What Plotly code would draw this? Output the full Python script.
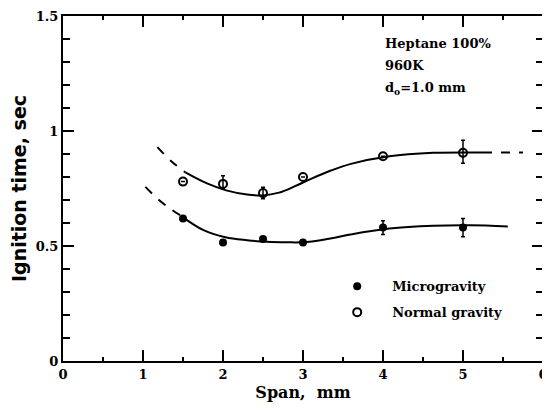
import plotly.graph_objects as go

# measured points
span = [1.5, 2, 2.5, 3, 4, 5]
micro = [0.62, 0.515, 0.53, 0.515, 0.58, 0.58]
micro_err_up = [0, 0, 0, 0, 0.03, 0.04]
micro_err_dn = [0, 0, 0, 0, 0.03, 0.04]
normal = [0.78, 0.77, 0.73, 0.80, 0.89, 0.905]
normal_err_up = [0, 0.035, 0.025, 0, 0, 0.055]
normal_err_dn = [0, 0.02, 0.025, 0, 0, 0.045]

# fitted curves
normal_fit_x = [1.53, 1.8, 2.04, 2.3, 2.5, 2.7, 2.9, 3.1, 3.35, 3.6, 4.08, 4.63, 5.09, 5.25]
normal_fit_y = [0.82, 0.772, 0.742, 0.724, 0.72, 0.732, 0.76, 0.792, 0.828, 0.857, 0.89, 0.905, 0.907, 0.907]
normal_dash_l_x = [1.18, 1.35, 1.53]
normal_dash_l_y = [0.93, 0.87, 0.82]
normal_dash_r_x = [5.25, 5.5, 5.75]
normal_dash_r_y = [0.907, 0.907, 0.907]

micro_fit_x = [1.48, 1.75, 2.03, 2.3, 2.55, 2.8, 3.04, 3.3, 3.59, 4.08, 4.63, 5.09, 5.56]
micro_fit_y = [0.63, 0.57, 0.538, 0.525, 0.518, 0.516, 0.517, 0.53, 0.55, 0.576, 0.588, 0.59, 0.585]
micro_dash_x = [1.03, 1.2, 1.35, 1.48]
micro_dash_y = [0.757, 0.70, 0.66, 0.63]

x_ticks = [0, 1, 2, 3, 4, 5, 6]
y_ticks = [0, 0.5, 1, 1.5]
y_ticktext = ["0", "0.5", "1", "1.5"]
info_lines = ["Heptane 100%", "960K", "d<sub>o</sub>=1.0 mm"]

SERIF = "DejaVu Serif"
SANS = "DejaVu Sans"
line = dict(color="black", width=2)
dash = dict(color="black", width=2, dash="dash")

fig = go.Figure()
fig.add_trace(go.Scatter(x=normal_fit_x, y=normal_fit_y, mode="lines", line=line,
                         line_shape="spline", showlegend=False, hoverinfo="skip"))
fig.add_trace(go.Scatter(x=normal_dash_l_x, y=normal_dash_l_y, mode="lines", line=dash,
                         line_shape="spline", showlegend=False, hoverinfo="skip"))
fig.add_trace(go.Scatter(x=normal_dash_r_x, y=normal_dash_r_y, mode="lines", line=dash,
                         showlegend=False, hoverinfo="skip"))
fig.add_trace(go.Scatter(x=micro_fit_x, y=micro_fit_y, mode="lines", line=line,
                         line_shape="spline", showlegend=False, hoverinfo="skip"))
fig.add_trace(go.Scatter(x=micro_dash_x, y=micro_dash_y, mode="lines", line=dash,
                         line_shape="spline", showlegend=False, hoverinfo="skip"))

fig.add_trace(go.Scatter(
    x=span, y=micro, mode="markers", name="Microgravity", legendgroup="a",
    marker=dict(symbol="circle", size=8, color="black"),
    error_y=dict(type="data", array=micro_err_up, arrayminus=micro_err_dn,
                 color="black", thickness=1.5, width=2)))
fig.add_trace(go.Scatter(
    x=span, y=normal, mode="markers", name="Normal gravity", legendgroup="b",
    marker=dict(symbol="circle-open", size=8, color="black", line=dict(width=2)),
    error_y=dict(type="data", array=normal_err_up, arrayminus=normal_err_dn,
                 color="black", thickness=1.5, width=2)))

for i, t in enumerate(info_lines):
    fig.add_annotation(x=4.0, y=1.38 - i * 0.097, text=t, showarrow=False,
                       xanchor="left", yanchor="middle",
                       font=dict(family=SERIF, size=13, color="black", weight="bold"))

axis_common = dict(
    showline=True, linecolor="black", linewidth=2, mirror="ticks",
    ticks="inside", ticklen=11, tickwidth=2, tickcolor="black",
    showgrid=False, zeroline=False, automargin=False,
    tickfont=dict(family=SERIF, size=13, color="black", weight="bold"),
)

fig.update_xaxes(range=[0, 6], tickvals=x_ticks,
                 minor=dict(dtick=0.5, ticks="inside", ticklen=4, tickwidth=1.5, tickcolor="black"),
                 title=dict(text="Span,  mm", standoff=6,
                            font=dict(family=SERIF, size=16, color="black", weight="bold")),
                 **axis_common)
fig.update_yaxes(range=[0, 1.5], tickvals=y_ticks, ticktext=y_ticktext,
                 minor=dict(dtick=0.1, ticks="inside", ticklen=7, tickwidth=1.5, tickcolor="black"),
                 title=dict(text="Ignition time, sec", standoff=7,
                            font=dict(family=SANS, size=19, color="black", weight="bold")),
                 **axis_common)

# page body has an 8px margin, so the figure is sized/placed to compensate
fig.update_layout(
    width=542, height=403,
    margin=dict(l=55, r=7, t=8, b=50),
    paper_bgcolor="white", plot_bgcolor="white",
    showlegend=True,
    legend=dict(x=0.54, y=0.26, xanchor="left", yanchor="top", itemwidth=60,
                bgcolor="rgba(0,0,0,0)", tracegroupgap=6,
                font=dict(family=SERIF, size=13, color="black", weight="bold")),
)

fig.write_html("out.html")
